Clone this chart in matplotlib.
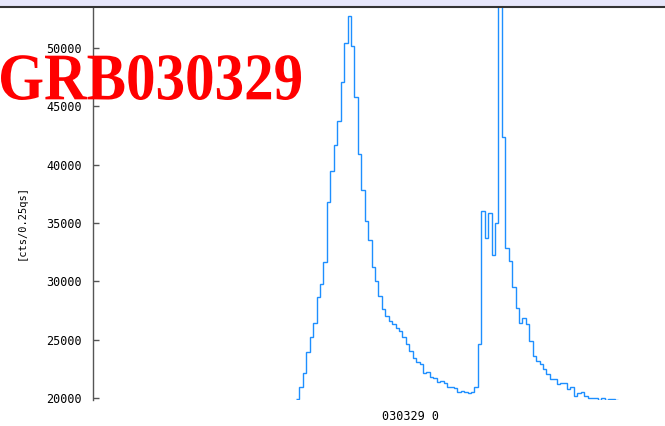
import numpy as np
import matplotlib
matplotlib.use('Agg')
import matplotlib.pyplot as plt
from matplotlib.patches import Rectangle, PathPatch
from matplotlib.lines import Line2D
from matplotlib.textpath import TextPath
from matplotlib.font_manager import FontProperties
from matplotlib.transforms import Affine2D, IdentityTransform

# light curve, counts per 0.25 s bin
bin_width = 0.25
t_start = 14.8
counts = [19890, 20920, 22170, 23920, 25250, 26400, 28660, 29800, 31660, 36770,
          39480, 41690, 43770, 47110, 50400, 52740, 50200, 45820, 40910, 37830,
          35200, 33540, 31250, 30030, 28740, 27600, 27030, 26630, 26340, 25970,
          25740, 25250, 24600, 24030, 23450, 23110, 22890, 22170, 22250, 21830,
          21690, 21400, 21430, 21310, 20920, 20920, 20830, 20490, 20630, 20540,
          20450, 20540, 20920, 24600, 36050, 33690, 35880, 32260, 34970, 60000,
          42400, 32830, 31770, 29540, 27710, 26400, 26830, 26340, 24890, 23630,
          23200, 22890, 22460, 22030, 21600, 21600, 21200, 21260, 21260, 20750,
          20920, 20170, 20400, 20540, 20170, 19970, 20030, 19970, 19830, 19970,
          19850, 19910, 19940, 19830]
yticks = [20000, 25000, 30000, 35000, 40000, 45000, 50000]

edges = t_start + bin_width * np.arange(len(counts) + 1)

fig = plt.figure(figsize=(6.65, 4.26), dpi=100)
ax = fig.add_axes([93 / 665, 26 / 426, 572 / 665, 392 / 426])

ax.stairs(counts, edges, baseline=None, color='#1e8fff', linewidth=1.0)
ax.set_xlim(0, 572 / 3.43 * bin_width)
ax.set_ylim(19830, 53430)

ax.set_yticks(yticks)
ax.set_yticklabels([str(v) for v in yticks], family='DejaVu Sans Mono', fontsize=8.5)
ax.tick_params(axis='y', direction='in', length=4, width=1, color='#555555', pad=8)
ax.set_xticks([])
for s in ['top', 'right', 'bottom']:
    ax.spines[s].set_visible(False)
ax.spines['left'].set_color('#555555')
ax.spines['left'].set_linewidth(1.0)

fig.text(22 / 665, 1 - 223 / 426, '[cts/0.25qs]', rotation=90, ha='center', va='center',
         family='DejaVu Sans Mono', fontsize=7.5)
fig.text(410 / 665, 1 - 417 / 426, '030329 0', ha='center', va='center',
         family='DejaVu Sans Mono', fontsize=8.5)

# header band
fig.add_artist(Rectangle((0, 1 - 6 / 426), 1, 6 / 426, transform=fig.transFigure,
                         facecolor='#e6e6fa', edgecolor='none'))
fig.add_artist(Line2D([0, 1], [1 - 7 / 426, 1 - 7 / 426], transform=fig.transFigure,
                      color='#333333', linewidth=1.5))

# big red title, stretched a bit taller like the original
tp = TextPath((0, 0), 'GRB030329', size=60,
              prop=FontProperties(family='Liberation Serif', weight='bold'))
ext = tp.get_extents()
sx = 300 / ext.width
sy = 45 / ext.height
tr = Affine2D().translate(-ext.x0, -ext.y0).scale(sx, sy).translate(1, 426 - 100)
fig.add_artist(PathPatch(tr.transform_path(tp), transform=IdentityTransform(),
                         facecolor='red', edgecolor='none'))

fig.savefig('out.png', dpi=100)
